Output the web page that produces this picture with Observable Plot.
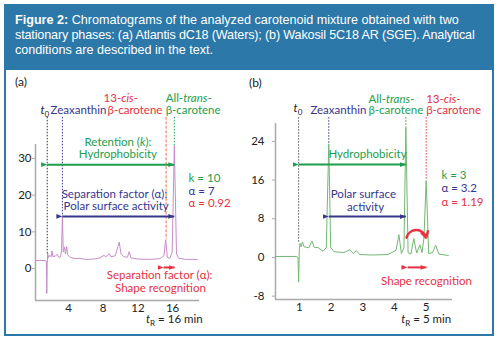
<!DOCTYPE html>
<html><head><meta charset="utf-8">
<script src="https://cdn.jsdelivr.net/npm/d3@7"></script>
<script src="https://cdn.jsdelivr.net/npm/@observablehq/plot@0.6"></script>
<style>
body{margin:0;width:500px;height:340px;background:#fff;position:relative;overflow:hidden;font-family:"Liberation Sans",Arial,sans-serif}
#frame{position:absolute;left:4px;top:4px;width:486px;height:328px;border:2px solid #2c78a8;background:#fff}
#header{position:absolute;left:4px;top:4px;width:490px;height:66px;background:#2c78a8;color:#fff;font-size:12.6px;line-height:15px;box-sizing:border-box;padding:9px 6px 0 11px;white-space:nowrap}
#header .l2{letter-spacing:-0.15px}
.plab{position:absolute;font-family:Lato,sans-serif;font-size:12px;color:#222}
.chart{position:absolute;top:70px}
</style></head>
<body>
<div id="frame"></div>
<div id="header"><b>Figure 2:</b> Chromatograms of the analyzed carotenoid mixture obtained with two<br><span class="l2">stationary phases: (a) Atlantis dC18 (Waters); (b) Wakosil 5C18 AR (SGE). Analytical</span><br>conditions are described in the text.</div>
<div class="plab" style="left:15px;top:74px">(a)</div>
<div class="plab" style="left:249px;top:75px">(b)</div>
<div id="ca" class="chart" style="left:0px"></div>
<div id="cb" class="chart" style="left:250px"></div>
<script>
// ---- data: panel (a) Atlantis dC18 ----
const timeA   = [0.2,1.3,1.45,1.5,1.55,1.6,1.7,1.85,2.0,2.1,2.2,2.5,2.7,2.9,3.1,3.2,3.3,3.4,3.55,3.65,3.8,3.9,4.2,4.8,5.2,6.0,7.0,7.6,8.1,8.3,8.7,8.9,9.4,9.7,9.85,10.05,10.4,10.8,11.0,11.2,12.0,13.5,14.6,15.0,15.2,15.4,15.7,15.95,16.2,16.45,16.7,17.5,18.85];
const signalA = [2.2,2.2,2.0,-6.8,1.0,4.2,3.0,3.6,3.2,4.8,3.3,3.4,3.9,3.0,3.2,5.0,14.4,4.5,5.8,4.0,6.0,3.8,3.0,2.7,2.8,2.5,2.6,2.9,3.6,3.2,4.1,3.2,3.5,6.0,7.2,4.0,3.2,3.1,4.6,2.9,2.6,2.5,2.7,3.5,7.8,3.0,2.8,4.5,33.5,4.0,2.8,2.5,2.5];
// ---- data: panel (b) Wakosil 5C18 AR ----
const timeB   = [0.25,0.9,0.96,0.98,1.0,1.02,1.06,1.1,1.15,1.3,1.4,1.47,1.6,1.75,1.85,1.93,1.99,2.1,2.4,2.6,2.7,2.8,2.9,3.3,3.8,4.05,4.14,4.22,4.3,4.36,4.43,4.52,4.61,4.7,4.8,4.87,4.93,5.0,5.08,5.2,5.3,5.4,5.7];
const signalB = [0.2,0.2,0.0,-5.1,1.5,2.9,2.2,3.2,2.2,2.0,3.4,2.1,2.0,1.3,2.0,23.5,2.0,1.2,1.0,1.6,0.8,1.4,0.6,0.5,0.6,1.5,4.7,0.8,2.0,27.0,1.0,0.7,3.9,0.9,2.6,1.0,4.0,15.9,0.8,1.0,2.5,0.7,0.4];
// ---- axes ----
const domainXA = [0.2, 19.1], domainYA = [-8.7, 33.8];
const domainXB = [0.25, 5.83], domainYB = [-8.7, 27.7];
const ticksXA = [4, 8, 12, 16], ticksYA = [0, 10, 20, 30];
const ticksXB = [1, 2, 3, 4, 5], ticksYB = [-8, 0, 8, 16, 24];

const green = "#1c9e4c", navy = "#36368f", red = "#e6323f", dark = "#222";

// marker lines (retention times) for each panel
const rulesA = [
  {t:1.55, v1:41.2, v2:4.0, c:"#333"},
  {t:3.3, v1:41.2, v2:14.4, c:navy},
  {t:16.2, v1:41.2, v2:33.5, c:green}
];
const dashedA = [{t:15.25, v1:41.2, v2:7.8, c:"#f07048"}];
const rulesB = [
  {t:0.98, v1:28.9, v2:3.0, c:"#555"},
  {t:1.93, v1:28.9, v2:23.5, c:navy},
  {t:4.36, v1:28.9, v2:27.0, c:green},
  {t:5.0, v1:28.9, v2:15.9, c:red}
];
const arrowsA = [
  {t1:1.55, t2:16.2, v:28.3, c:green},
  {t1:3.3, t2:16.2, v:14.2, c:navy},
  {t1:14.96, t2:16.23, v:0.3, c:red}
];
const arrowsB = [
  {t1:0.98, t2:4.36, v:19.2, c:green},
  {t1:1.93, t2:4.36, v:8.46, c:navy},
  {t1:4.41, t2:5.01, v:-2.06, c:red}
];
const bendB = [{t1:4.38, v1:4.1, t2:5.0, v2:4.1}];

const centerA = [
  {t:9.7, v:34.3, s:"Retention (*k*):", c:green},
  {t:9.7, v:31.05, s:"Hydrophobicity", c:green},
  {t:9.3, v:20.2, s:"Separation factor (α):", c:navy},
  {t:9.5, v:17.0, s:"Polar surface activity", c:navy},
  {t:14.5, v:-1.9, s:"Separation factor (α):", c:red},
  {t:14.6, v:-5.45, s:"Shape recognition", c:red},
  {t:16.2, v:-13.9, s:"*t*~R~ = 16 min", c:dark}
];
const startA = [
  {t:0.77, v:43, s:"*t*~0~", c:dark},
  {t:1.93, v:43, s:"Zeaxanthin", c:navy},
  {t:8.05, v:46.3, s:"13-*cis*-", c:red},
  {t:8.5, v:43, s:"β-carotene", c:red},
  {t:15.2, v:46.3, s:"All-*trans*-", c:green},
  {t:15.2, v:43, s:"β-carotene", c:green},
  {t:17.84, v:24.5, s:"k = 10", c:green},
  {t:17.84, v:21, s:"α = 7", c:navy},
  {t:17.84, v:17.7, s:"α = 0.92", c:red}
];
const centerB = [
  {t:3.15, v:21.3, s:"Hydrophobicity", c:green},
  {t:3.02, v:13.0, s:"Polar surface", c:navy},
  {t:3.09, v:10.3, s:"activity", c:navy},
  {t:5.01, v:-4.95, s:"Shape recognition", c:red},
  {t:5.0, v:-12.85, s:"*t*~R~ = 5 min", c:dark}
];
const startB = [
  {t:0.82, v:30.8, s:"*t*~0~", c:dark},
  {t:1.35, v:30.35, s:"Zeaxanthin", c:navy},
  {t:3.18, v:32.8, s:"All-*trans*-", c:green},
  {t:3.18, v:30.35, s:"β-carotene", c:green},
  {t:5.0, v:32.8, s:"13-*cis*-", c:red},
  {t:5.0, v:30.35, s:"β-carotene", c:red},
  {t:5.48, v:16.9, s:"k = 3", c:green},
  {t:5.48, v:14.2, s:"α = 3.2", c:navy},
  {t:5.48, v:11.35, s:"α = 1.19", c:red}
];

function richText(svg) {
  d3.select(svg).selectAll("text").each(function() {
    const s = this.textContent;
    if (!/[*~]/.test(s) || this.querySelector("tspan")) return;
    const el = d3.select(this); el.text(null);
    const parts = s.split(/(\*[^*]+\*|~[^~]+~)/).filter(d => d);
    let shift = 0;
    for (const p of parts) {
      const ts = el.append("tspan");
      if (p[0] === "*") { ts.attr("font-style", "italic").text(p.slice(1, -1)); if (shift) {ts.attr("dy", -shift); shift = 0;} }
      else if (p[0] === "~") { ts.attr("font-size", "70%").attr("dy", 3).text(p.slice(1, -1)); shift = 3; }
      else { ts.text(p); if (shift) {ts.attr("dy", -shift); shift = 0;} }
    }
  });
  d3.select(svg).selectAll("marker").each(function() {
    const m = d3.select(this);
    const col = m.attr("stroke") || m.select("path").attr("stroke") || "currentColor";
    m.attr("viewBox", "-10 -5 10 10").attr("markerWidth", 6).attr("markerHeight", 6)
     .attr("markerUnits", "userSpaceOnUse").attr("fill", col).attr("stroke", "none");
    m.select("path").attr("d", "M-10,-4L0,0L-10,4Z").attr("fill", col).attr("stroke", "none");
  });
  return svg;
}

function panel({time, signal, lineColor, dx, dy, tx, ty, rules, dashed, arrows, center, start, margins, tickPad, extra}) {
  const series = time.map((t, i) => ({t, v: signal[i]}));
  return Plot.plot({
    width: margins.w, height: 262,
    marginLeft: margins.l, marginRight: margins.r, marginTop: margins.t, marginBottom: margins.b,
    x: {domain: dx}, y: {domain: dy},
    style: {background: "transparent", fontFamily: "Lato, sans-serif", fontSize: "11.5px", color: dark, overflow: "visible"},
    marks: [
      Plot.ruleX([{x: dx[0], y1: dy[0], y2: dy[1]}], {x: "x", y1: "y1", y2: "y2", stroke: "#a9a9a9", strokeWidth: 1.5}),
      Plot.ruleY([{y: dy[0], x1: dx[0], x2: dx[1]}], {y: "y", x1: "x1", x2: "x2", stroke: "#a9a9a9", strokeWidth: 1.5}),
      Plot.axisY(ty, {tickSize: 3, tickPadding: tickPad, stroke: "#aaa", label: null, tickFormat: d => String(d)}),
      Plot.axisX(tx, {tickSize: 0, tickPadding: 3, label: null}),
      Plot.ruleX(rules, {x: "t", y1: "v1", y2: "v2", stroke: "c", strokeDasharray: "1.5,1.5", strokeWidth: 1}),
      Plot.ruleX(dashed || [], {x: "t", y1: "v1", y2: "v2", stroke: "c", strokeDasharray: "3,1.5", strokeWidth: 1}),
      Plot.line(series, {x: "t", y: "v", stroke: lineColor, strokeWidth: 1}),
      Plot.link(arrows, {x1: "t1", x2: "t2", y1: "v", y2: "v", stroke: "c", strokeWidth: 2, markerStart: "arrow", markerEnd: "arrow"}),
      ...(extra || []),
      Plot.text(center, {x: "t", y: "v", text: "s", fill: "c", textAnchor: "middle"}),
      Plot.text(start, {x: "t", y: "v", text: "s", fill: "c", textAnchor: "start"})
    ]
  });
}

const svgA = panel({time: timeA, signal: signalA, lineColor: "#c78ccb", dx: domainXA, dy: domainYA, tx: ticksXA, ty: ticksYA,
  rules: rulesA, dashed: dashedA, arrows: arrowsA, center: centerA, start: startA, margins: {w: 250, l: 35, r: 51, t: 74, b: 32}, tickPad: 1});
const svgB = panel({time: timeB, signal: signalB, lineColor: "#72b872", dx: domainXB, dy: domainYB, tx: ticksXB, ty: ticksYB,
  rules: rulesB, arrows: arrowsB, center: centerB, start: startB, margins: {w: 245, l: 25, r: 43, t: 53, b: 33}, tickPad: 8,
  extra: [Plot.arrow(bendB, {x1: "t1", y1: "v1", x2: "t2", y2: "v2", bend: 75, stroke: red, strokeWidth: 2.5, headLength: 6})]});
document.getElementById("ca").append(richText(svgA));
document.getElementById("cb").append(richText(svgB));
</script>
</body></html>
